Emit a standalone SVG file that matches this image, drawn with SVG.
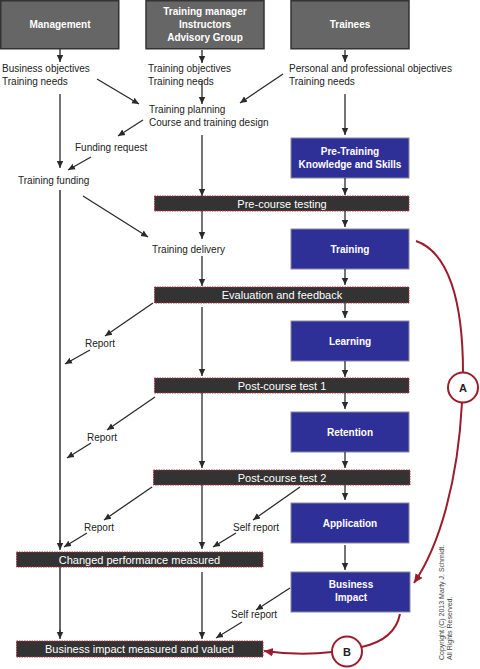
<svg xmlns="http://www.w3.org/2000/svg" width="480" height="669" viewBox="0 0 480 669">
<defs>
<style>
.hdr{fill:#666;stroke:#333;stroke-width:1.5}
.blue{fill:#2f2f98;stroke:#8a8a9a;stroke-width:1}
.bar{fill:#333;stroke:#b03040;stroke-width:1;stroke-dasharray:1.5,1}
.ht{font-family:"Liberation Sans",Arial,sans-serif;font-size:10px;font-weight:bold;fill:#fff;text-anchor:middle}
.bt{font-family:"Liberation Sans",Arial,sans-serif;font-size:11px;fill:#fff;text-anchor:middle}
.lt{font-family:"Liberation Sans",Arial,sans-serif;font-size:10px;fill:#222}
.ar{stroke:#2a2a2a;stroke-width:1.3;fill:none;marker-end:url(#ah)}
.ln{stroke:#555;stroke-width:1.8;fill:none}
.red{stroke:#9b1c2c;stroke-width:2;fill:none}
.circ{fill:#fff;stroke:#9b1c2c;stroke-width:2}
.ct{font-family:"Liberation Sans",Arial,sans-serif;font-size:11px;font-weight:bold;fill:#222;text-anchor:middle}
.cp{font-family:"Liberation Sans",Arial,sans-serif;font-size:7px;fill:#444}
</style>
<marker id="ah" markerWidth="8" markerHeight="8" refX="7" refY="4" orient="auto" markerUnits="userSpaceOnUse">
<path d="M0,0.8 L7,4 L0,7.2 Z" fill="#2a2a2a"/>
</marker>
<marker id="rh" markerWidth="10" markerHeight="10" refX="9" refY="5" orient="auto" markerUnits="userSpaceOnUse">
<path d="M0,0.8 L9,5 L0,9.2 Z" fill="#9b1c2c"/>
</marker>
</defs>
<rect width="480" height="669" fill="#fff"/>

<g id="management"><rect class="hdr" x="0.75" y="0.75" width="118" height="48"/><text class="ht" x="60" y="27.5">Management</text></g>
<g id="training-manager"><rect class="hdr" x="146" y="0.75" width="118" height="48"/><text class="ht" x="205" y="14.5">Training manager</text><text class="ht" x="205" y="27.5">Instructors</text><text class="ht" x="205" y="40.5">Advisory Group</text></g>
<g id="trainees"><rect class="hdr" x="291" y="0.75" width="118" height="48"/><text class="ht" x="350" y="27.5">Trainees</text></g>

<g id="business-objectives"><text class="lt" x="2" y="72">Business objectives</text><text class="lt" x="2" y="85">Training needs</text></g>
<g id="training-objectives"><text class="lt" x="148" y="72">Training objectives</text><text class="lt" x="148" y="85">Training needs</text></g>
<g id="personal-objectives"><text class="lt" x="289" y="72">Personal and professional objectives</text><text class="lt" x="289" y="85">Training needs</text></g>
<g id="training-planning"><text class="lt" x="149" y="113">Training planning</text><text class="lt" x="149" y="126">Course and training design</text></g>
<g id="funding-request"><text class="lt" x="75" y="150.5">Funding request</text></g>
<g id="training-funding"><text class="lt" x="18" y="184">Training funding</text></g>
<g id="training-delivery"><text class="lt" x="152" y="252.5">Training delivery</text></g>
<g id="report1"><text class="lt" x="85" y="347">Report</text></g>
<g id="report2"><text class="lt" x="87" y="441">Report</text></g>
<g id="report3"><text class="lt" x="84" y="531">Report</text></g>
<g id="self-report1"><text class="lt" x="233" y="531">Self report</text></g>
<g id="self-report2"><text class="lt" x="231" y="618">Self report</text></g>

<g id="pre-training"><rect class="blue" x="291" y="138" width="118" height="40"/><text class="ht" x="350" y="155">Pre-Training</text><text class="ht" x="350" y="168">Knowledge and Skills</text></g>
<g id="training"><rect class="blue" x="291" y="229" width="118" height="40"/><text class="ht" x="350" y="252.5">Training</text></g>
<g id="learning"><rect class="blue" x="291" y="321" width="118" height="40"/><text class="ht" x="350" y="344.5">Learning</text></g>
<g id="retention"><rect class="blue" x="291" y="412" width="118" height="40"/><text class="ht" x="350" y="435.5">Retention</text></g>
<g id="application"><rect class="blue" x="291" y="503" width="118" height="40"/><text class="ht" x="350" y="526.5">Application</text></g>
<g id="business-impact"><rect class="blue" x="291" y="572" width="119" height="40"/><text class="ht" x="351" y="587.5">Business</text><text class="ht" x="351" y="601">Impact</text></g>

<g id="pre-course-testing"><rect class="bar" x="154.5" y="196" width="254.5" height="15"/><text class="bt" x="282" y="207.5">Pre-course testing</text></g>
<g id="evaluation"><rect class="bar" x="154.5" y="287" width="254.5" height="16"/><text class="bt" x="282" y="299">Evaluation and feedback</text></g>
<g id="post-course-1"><rect class="bar" x="154.5" y="378" width="254.5" height="15"/><text class="bt" x="282" y="389.5">Post-course test 1</text></g>
<g id="post-course-2"><rect class="bar" x="153.5" y="470" width="256.5" height="15"/><text class="bt" x="282" y="481.5">Post-course test 2</text></g>
<g id="changed-performance"><rect class="bar" x="16.5" y="552" width="246.5" height="15"/><text class="bt" x="139.5" y="563.5">Changed performance measured</text></g>
<g id="business-impact-measured"><rect class="bar" x="16.5" y="641" width="246.5" height="16"/><text class="bt" x="139.5" y="653">Business impact measured and valued</text></g>

<g id="A"><circle class="circ" cx="463" cy="387.5" r="15"/><text class="ct" x="463" y="391.5">A</text></g>
<g id="B"><circle class="circ" cx="347" cy="651.5" r="15"/><text class="ct" x="347" y="655.5">B</text></g>

<g id="copyright"><text class="cp" transform="translate(444,660) rotate(-90)">Copyright (C) 2013 Marty J. Schmidt.</text><text class="cp" transform="translate(452,660) rotate(-90)">All Rights Reserved.</text></g>

<g id="connectors">
<path class="ar" d="M60,49 L60,62"/>
<path class="ar" d="M202,50 L202,63"/>
<path class="ar" d="M345,50 L345,62"/>
<path class="ar" d="M97,79 L139,104"/>
<path class="ar" d="M283,74 L240,103"/>
<path class="ar" d="M202,82 L202,104"/>
<path class="ar" d="M60,94 L60,168"/>
<path class="ar" d="M143,120 L118,136"/>
<path class="ar" d="M91,157 L68,170"/>
<path class="ar" d="M202,135 L202,196"/>
<path class="ar" d="M345,94 L345,135"/>
<path class="ar" d="M345,178 L345,195"/>
<path class="ar" d="M83,196 L148,237"/>
<path class="ar" d="M202,211 L202,239"/>
<path class="ar" d="M345,211 L345,227"/>
<path class="ar" d="M202,256 L202,286"/>
<path class="ar" d="M345,269 L345,285"/>
<path class="ar" d="M153,303 L105,336"/>
<path class="ar" d="M90,350 L65,364"/>
<path class="ar" d="M202,307 L202,376"/>
<path class="ar" d="M345,303 L345,318"/>
<path class="ar" d="M345,361 L345,377"/>
<path class="ln" d="M60,190 L60,545"/>
<path class="ar" d="M60,540 L60,550"/>
<path class="ar" d="M155,397 L107,430"/>
<path class="ar" d="M91,443 L67,458"/>
<path class="ar" d="M202,393 L202,468"/>
<path class="ar" d="M345,393 L345,409"/>
<path class="ar" d="M345,452 L345,468"/>
<path class="ar" d="M152,487 L104,520"/>
<path class="ar" d="M87,533 L64,547"/>
<path class="ar" d="M202,485 L202,549"/>
<path class="ar" d="M300,487 L253,520"/>
<path class="ar" d="M236,533 L213,547"/>
<path class="ar" d="M345,485 L345,500"/>
<path class="ar" d="M345,545 L345,570"/>
<path class="ln" d="M60,567 L60,634"/>
<path class="ar" d="M60,630 L60,639"/>
<path class="ar" d="M202,572 L202,639"/>
<path class="ar" d="M290,588 L256,610"/>
<path class="ar" d="M242,622 L216,638"/>
<path class="red" d="M416,241 C448,252 463,300 463,372.5"/>
<path class="red" d="M462,402.5 C458,480 440,545 414,583" marker-end="url(#rh)"/>
<path class="red" d="M400,614 C396,634 380,643 361.5,647"/>
<path class="red" d="M332,652 Q300,656 264,651" marker-end="url(#rh)"/>
</g>
</svg>
